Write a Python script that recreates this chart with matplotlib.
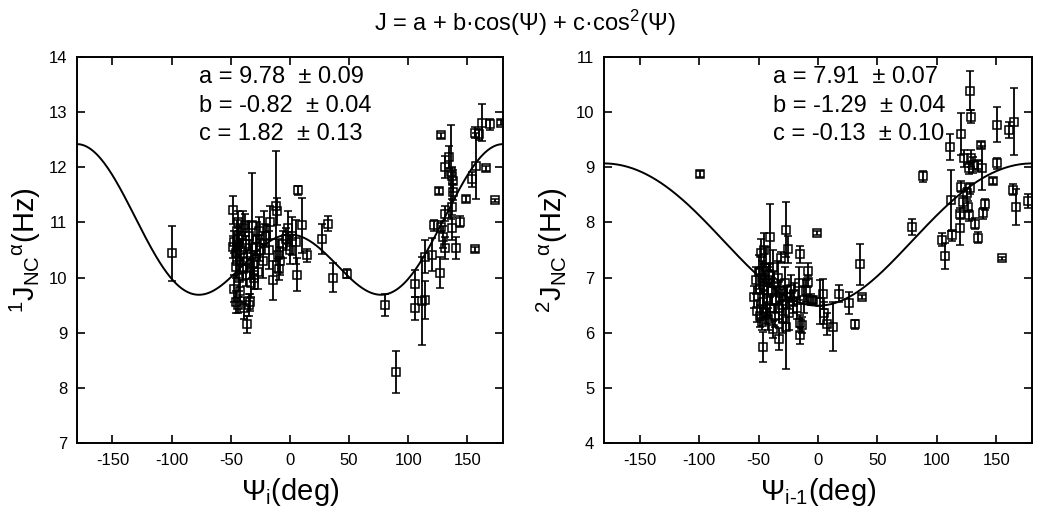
import numpy as np
import matplotlib.pyplot as plt

# ---- fit parameters shown on the panels ----
fit_left = (9.78, -0.82, 1.82)
fit_left_err = (0.09, 0.04, 0.13)
fit_right = (7.91, -1.29, -0.13)
fit_right_err = (0.07, 0.04, 0.10)

# ---- left panel: 1J_NCa vs psi_i (deg, Hz, error) ----
psi_left = [-100, -48, -47, -46, -48, -45, -47, -46, -44, -45, -44, -43, -46, -42, -41,
            -43, -42, -40, -40, -39, -44, -38, -37, -36, -36, -35, -34, -37, -35, -33,
            -32, -31, -30, -29, -28, -27, -26, -25, -30, -33, -23, -22, -20, -17, -18,
            -14, -12, -11, -10, -9, -8, -6, -3, -2, 0, 2, 7, 5, 6, 10, 14, 27, 32, 36,
            48, 80, 90, 106, 106, 112, 114, 114, 120, 122, 126, 127, 128, 129, 131, 131,
            134, 136, 137, 137, 138, 138, 140, 144, 128, 131, 137, 149, 154, 156, 156,
            157, 160, 162, 166, 169, 173, 178]
j_left = [10.44, 11.22, 10.65, 10.45, 10.55, 10.3, 9.8, 9.55, 9.5, 10.85, 10.7, 10.6, 10.2,
          10.4, 10.5, 10.0, 9.75, 10.9, 10.15, 9.45, 11.0, 10.95, 10.6, 10.3, 9.15, 9.5,
          9.55, 10.05, 10.75, 10.4, 10.95, 10.25, 10.05, 10.55, 10.7, 10.1, 10.85, 10.5,
          10.0, 9.9, 10.3, 10.9, 10.75, 11.0, 10.5, 9.95, 11.3, 11.2, 10.4, 10.15, 10.3,
          10.6, 10.7, 10.9, 10.5, 10.75, 11.58, 10.65, 10.05, 10.95, 10.4, 10.7, 10.98,
          10.0, 10.07, 9.5, 8.28, 9.89, 9.44, 9.58, 10.38, 9.59, 10.41, 10.95, 11.57,
          10.09, 12.58, 10.74, 10.53, 11.16, 12.18, 11.92, 11.28, 10.89, 11.75, 11.55,
          10.53, 11.01, 10.92, 12.0, 11.85, 11.42, 11.78, 10.51, 12.63, 12.02, 12.6,
          12.81, 11.98, 12.78, 11.4, 12.81]
err_left = [0.5, 0.25, 0.2, 0.15, 0.2, 0.3, 0.25, 0.2, 0.15, 0.2, 0.2, 0.25, 0.2, 0.3, 0.2,
            0.25, 0.2, 0.3, 0.2, 0.2, 0.2, 0.2, 0.15, 0.2, 0.15, 0.2, 0.15, 0.2, 0.25,
            0.2, 0.95, 0.2, 0.25, 0.2, 0.3, 0.3, 0.25, 0.2, 0.2, 0.25, 0.3, 0.3, 0.2, 0.3,
            0.35, 0.35, 1.0, 0.25, 0.3, 0.2, 0.25, 0.25, 0.2, 0.3, 0.25, 0.35, 0.08, 0.4,
            0.3, 0.5, 0.12, 0.27, 0.13, 0.26, 0.08, 0.2, 0.38, 0.24, 0.21, 0.8, 0.3, 0.35,
            0.3, 0.1, 0.05, 0.28, 0.05, 0.2, 0.2, 0.13, 0.2, 0.85, 0.15, 0.2, 0.2, 0.15,
            0.2, 0.1, 0.1, 0.2, 0.15, 0.05, 0.14, 0.05, 0.1, 0.6, 0.1, 0.34, 0.05, 0.1,
            0.03, 0.05]

# ---- right panel: 2J_NCa vs psi_(i-1) ----
# cluster around -50..40 deg plus three isolated points
psi_right_a = [-54, -52, -51, -50, -49, -49, -48, -47, -47, -46, -46, -45, -45, -44, -44,
               -43, -42, -42, -41, -40, -40, -39, -38, -38, -37, -36, -35, -34, -33, -33,
               -32, -31, -30, -29, -28, -27, -27, -26, -25, -24, -23, -21, -20, -18, -16,
               -15, -15, -15, -13, -12, -10, -8, -8, -6, -4, -1, 2, 4, 5, 8, 13, 18, 26,
               31, 35, 37, -99, 79, 88]
j_right_a = [6.65, 6.95, 6.4, 7.1, 6.8, 6.3, 7.45, 6.2, 7.0, 5.74, 6.55, 7.5, 6.85, 6.35,
             7.2, 6.6, 6.95, 6.25, 7.05, 7.73, 6.45, 6.75, 6.06, 7.2, 6.9, 6.3, 6.6, 7.0,
             5.88, 6.45, 6.75, 7.36, 6.5, 6.25, 6.9, 7.87, 6.1, 6.65, 7.51, 6.35, 6.8, 6.55,
             6.7, 6.45, 6.9, 7.42, 6.17, 5.95, 6.14, 6.6, 6.75, 7.12, 6.92, 6.6, 6.59, 7.81,
             6.56, 6.7, 6.35, 6.15, 6.11, 6.71, 6.54, 6.15, 7.24, 6.65, 8.88, 7.92, 8.84]
err_right_a = [0.2, 0.25, 0.2, 0.3, 0.35, 0.2, 0.25, 0.15, 0.3, 0.28, 0.2, 0.3, 0.4, 0.2,
               0.35, 0.3, 0.25, 0.2, 0.2, 0.6, 0.2, 0.25, 0.15, 0.3, 0.2, 0.2, 0.25, 0.3,
               0.2, 0.2, 0.2, 0.1, 0.3, 0.25, 0.3, 0.5, 0.75, 0.2, 0.25, 0.3, 0.25, 0.2,
               0.2, 0.2, 0.3, 0.15, 0.15, 0.15, 0.15, 0.25, 0.2, 0.15, 0.1, 0.1, 0.05, 0.03,
               0.4, 0.27, 0.2, 0.2, 0.45, 0.15, 0.2, 0.08, 0.37, 0.03, 0.05, 0.15, 0.1]
# cluster around 100..180 deg
psi_right_b = [104.5, 106.7, 110.9, 112.3, 113, 119.3, 119.3, 120.7, 120.7, 122.1, 122.7,
               125, 126.3, 126.9, 127.1, 127.7, 127.7, 129.1, 129.1, 130.5, 132, 134.4,
               134.7, 137.1, 138.4, 139, 140.5, 147.3, 150.7, 150.7, 154.4, 160.8, 164.2,
               165, 167, 176.8]
j_right_b = [7.69, 7.39, 9.37, 8.4, 7.77, 8.16, 7.89, 9.60, 8.65, 8.37, 9.16,
             8.53, 8.28, 8.98, 8.13, 10.39, 8.62, 9.92, 9.16, 9.04, 7.98, 7.72,
             9.04, 9.40, 8.98, 8.17, 8.33, 8.75, 9.77, 9.07, 7.35, 9.68, 8.59,
             9.83, 8.28, 8.39]
err_right_b = [0.12, 0.23, 0.23, 0.55, 0.1, 0.1, 0.3, 0.38, 0.1, 0.1, 0.15,
               0.1, 0.1, 0.1, 0.1, 0.36, 0.1, 0.12, 0.15, 0.15, 0.1, 0.1,
               0.1, 0.05, 0.4, 0.1, 0.1, 0.05, 0.32, 0.1, 0.03, 0.15, 0.1,
               0.6, 0.32, 0.12]

psi_right = psi_right_a + psi_right_b
j_right = j_right_a + j_right_b
err_right = err_right_a + err_right_b

plt.rcParams['font.family'] = ['Liberation Sans', 'DejaVu Sans']
plt.rcParams['mathtext.fontset'] = 'custom'
plt.rcParams['mathtext.rm'] = 'Liberation Sans'
plt.rcParams['mathtext.it'] = 'Liberation Sans'
plt.rcParams['axes.unicode_minus'] = False

fig = plt.figure(figsize=(10.5, 5.13), dpi=100)
ax1 = fig.add_axes([0.0733, 0.1365, 0.4057, 0.7524])
ax2 = fig.add_axes([0.5752, 0.1365, 0.4076, 0.7524])

psi_grid = np.linspace(-180, 180, 361)


def panel(ax, psi, j, err, fit, fit_err, ylim, text_x, text_y, ylabel, xlabel):
    a, b, c = fit
    cosv = np.cos(np.radians(psi_grid))
    ax.plot(psi_grid, a + b * cosv + c * cosv ** 2, color='black', lw=1.4, zorder=2)
    ax.errorbar(psi, j, yerr=err, fmt='s', ms=6, mfc='none', mec='black', mew=1.1,
                ecolor='black', elinewidth=1.3, capsize=3, capthick=1.3, zorder=3)
    ax.set_xlim(-180, 180)
    ax.set_ylim(*ylim)
    ax.set_xticks([-150, -100, -50, 0, 50, 100, 150])
    ax.set_yticks(range(ylim[0], ylim[1] + 1))
    ax.tick_params(direction='in', length=6, width=1.2, top=True, right=True,
                   labelsize=12, pad=7)
    for s in ax.spines.values():
        s.set_linewidth(1.4)
    names = ['a', 'b', 'c']
    for k in range(3):
        ax.text(text_x, text_y[k], f'{names[k]} = {fit[k]:.2f}  \u00b1 {fit_err[k]:.2f}',
                fontsize=17, va='center', ha='left')
    ax.set_ylabel(ylabel, fontsize=21, labelpad=4)
    ax.set_xlabel(xlabel, fontsize=21, labelpad=6)


panel(ax1, psi_left, j_left, err_left, fit_left, fit_left_err, (7, 14), -77,
      [13.64, 13.11, 12.60], r'$^{1}$J$_{\mathrm{NC}}$$^{\alpha}$(Hz)',
      '\u03a8$_{\\mathrm{i}}$(deg)')
panel(ax2, psi_right, j_right, err_right, fit_right, fit_right_err, (4, 11), -38,
      [10.64, 10.11, 9.60], r'$^{2}$J$_{\mathrm{NC}}$$^{\alpha}$(Hz)',
      '\u03a8$_{\\text{i-1}}$(deg)')

fig.text(0.5, 0.955, 'J = a + b\u00b7cos(\u03a8) + c\u00b7cos$^2$(\u03a8)',
         ha='center', va='center', fontsize=17)

fig.savefig('out.png', dpi=100)
